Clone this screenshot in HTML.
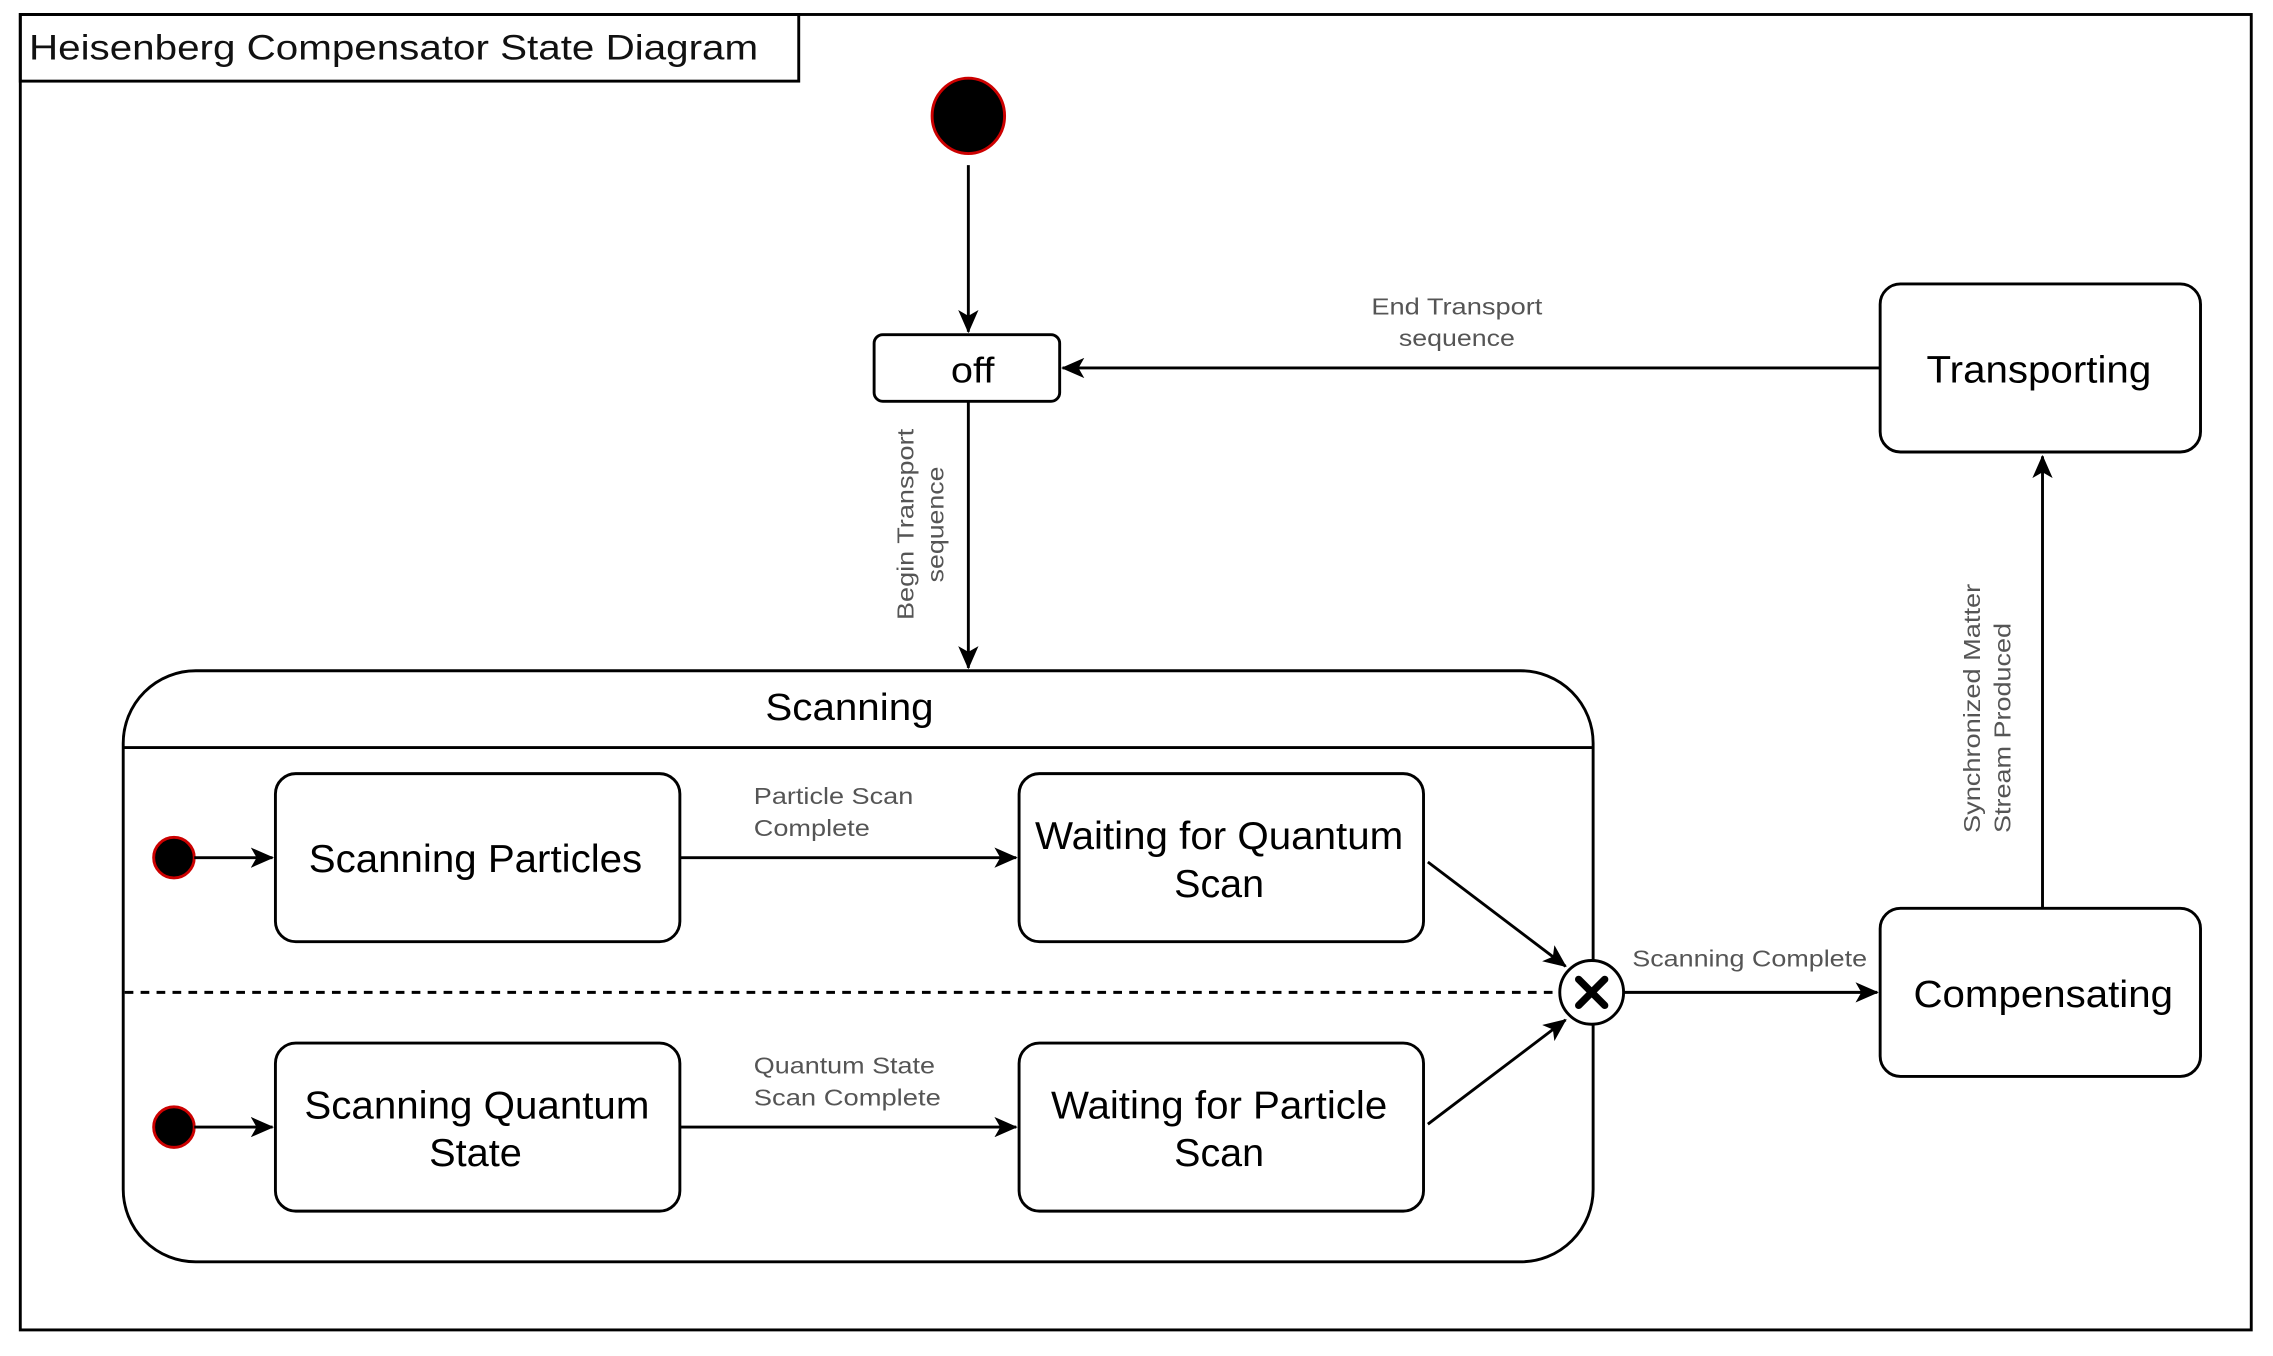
<!DOCTYPE html>
<html><head><meta charset="utf-8"><style>
html,body{margin:0;padding:0;background:#fff;width:2273px;height:1356px;overflow:hidden}
svg{display:block}
text{font-family:"Liberation Sans",sans-serif}
</style></head><body>
<svg width="2273" height="1356" viewBox="0 0 1568 936" preserveAspectRatio="none">
<defs>
<marker id="a" markerWidth="16" markerHeight="14" refX="15" refY="7" orient="auto" markerUnits="userSpaceOnUse">
<path d="M0,0 L16,7 L0,14 L4,7 z" fill="#000"/></marker>
</defs>
<rect x="0" y="0" width="1568" height="936" fill="#fff"/>
<rect x="14" y="10" width="1539" height="908" fill="none" stroke="#000" stroke-width="2"/>
<rect x="14" y="10" width="537" height="46" fill="none" stroke="#000" stroke-width="2"/>
<text x="20" y="41" font-size="24" fill="#111" textLength="503" lengthAdjust="spacingAndGlyphs">Heisenberg Compensator State Diagram</text>

<ellipse cx="668" cy="80" rx="25" ry="26" fill="#000" stroke="#c00" stroke-width="2"/>
<line x1="668" y1="114" x2="668" y2="229" stroke="#000" stroke-width="2" marker-end="url(#a)"/>
<rect x="603" y="231" width="128" height="46" rx="6" fill="#fff" stroke="#000" stroke-width="2"/>
<text x="656" y="264" font-size="25" textLength="30" lengthAdjust="spacingAndGlyphs">off</text>

<rect x="1297" y="196" width="221" height="116" rx="14" fill="#fff" stroke="#000" stroke-width="2"/>
<text x="1329" y="264" font-size="26" textLength="155" lengthAdjust="spacingAndGlyphs">Transporting</text>
<line x1="1297" y1="254" x2="733" y2="254" stroke="#000" stroke-width="2" marker-end="url(#a)"/>
<text x="946" y="217" font-size="16" fill="#555" textLength="118" lengthAdjust="spacingAndGlyphs">End Transport</text>
<text x="965" y="239" font-size="16" fill="#555" textLength="80" lengthAdjust="spacingAndGlyphs">sequence</text>

<line x1="668" y1="277" x2="668" y2="461" stroke="#000" stroke-width="2" marker-end="url(#a)"/>
<text transform="translate(630,428) rotate(-90)" font-size="16" fill="#555" textLength="132" lengthAdjust="spacingAndGlyphs">Begin Transport</text>
<text transform="translate(651,402) rotate(-90)" font-size="16" fill="#555" textLength="80" lengthAdjust="spacingAndGlyphs">sequence</text>

<rect x="85" y="463" width="1014" height="408" rx="50" fill="#fff" stroke="#000" stroke-width="2"/>
<line x1="85" y1="516" x2="1099" y2="516" stroke="#000" stroke-width="2"/>
<text x="528" y="497" font-size="26" textLength="116" lengthAdjust="spacingAndGlyphs">Scanning</text>
<line x1="86" y1="685" x2="1076" y2="685" stroke="#000" stroke-width="2" stroke-dasharray="6,5"/>

<ellipse cx="120" cy="592" rx="14" ry="14" fill="#000" stroke="#c00" stroke-width="2"/>
<ellipse cx="120" cy="778" rx="14" ry="14" fill="#000" stroke="#c00" stroke-width="2"/>
<line x1="134" y1="592" x2="188" y2="592" stroke="#000" stroke-width="2" marker-end="url(#a)"/>
<line x1="134" y1="778" x2="188" y2="778" stroke="#000" stroke-width="2" marker-end="url(#a)"/>

<rect x="190" y="534" width="279" height="116" rx="14" fill="#fff" stroke="#000" stroke-width="2"/>
<text x="213" y="602" font-size="27" textLength="230" lengthAdjust="spacingAndGlyphs">Scanning Particles</text>
<rect x="703" y="534" width="279" height="116" rx="14" fill="#fff" stroke="#000" stroke-width="2"/>
<text x="714" y="586" font-size="27" textLength="254" lengthAdjust="spacingAndGlyphs">Waiting for Quantum</text>
<text x="810" y="619" font-size="27" textLength="62" lengthAdjust="spacingAndGlyphs">Scan</text>
<rect x="190" y="720" width="279" height="116" rx="14" fill="#fff" stroke="#000" stroke-width="2"/>
<text x="210" y="772" font-size="27" textLength="238" lengthAdjust="spacingAndGlyphs">Scanning Quantum</text>
<text x="296" y="805" font-size="27" textLength="64" lengthAdjust="spacingAndGlyphs">State</text>
<rect x="703" y="720" width="279" height="116" rx="14" fill="#fff" stroke="#000" stroke-width="2"/>
<text x="725" y="772" font-size="27" textLength="232" lengthAdjust="spacingAndGlyphs">Waiting for Particle</text>
<text x="810" y="805" font-size="27" textLength="62" lengthAdjust="spacingAndGlyphs">Scan</text>

<line x1="469" y1="592" x2="701" y2="592" stroke="#000" stroke-width="2" marker-end="url(#a)"/>
<line x1="469" y1="778" x2="701" y2="778" stroke="#000" stroke-width="2" marker-end="url(#a)"/>
<text x="520" y="555" font-size="16" fill="#555" textLength="110" lengthAdjust="spacingAndGlyphs">Particle Scan</text>
<text x="520" y="577" font-size="16" fill="#555" textLength="80" lengthAdjust="spacingAndGlyphs">Complete</text>
<text x="520" y="741" font-size="16" fill="#555" textLength="125" lengthAdjust="spacingAndGlyphs">Quantum State</text>
<text x="520" y="763" font-size="16" fill="#555" textLength="129" lengthAdjust="spacingAndGlyphs">Scan Complete</text>

<line x1="985" y1="595" x2="1080" y2="667" stroke="#000" stroke-width="2" marker-end="url(#a)"/>
<line x1="985" y1="776" x2="1080" y2="704" stroke="#000" stroke-width="2" marker-end="url(#a)"/>
<circle cx="1098" cy="685" r="22" fill="#fff" stroke="#000" stroke-width="2"/>
<path d="M1089,676 L1107,694 M1107,676 L1089,694" stroke="#000" stroke-width="5" stroke-linecap="round"/>
<line x1="1120" y1="685" x2="1295" y2="685" stroke="#000" stroke-width="2" marker-end="url(#a)"/>
<text x="1126" y="667" font-size="16" fill="#555" textLength="162" lengthAdjust="spacingAndGlyphs">Scanning Complete</text>

<rect x="1297" y="627" width="221" height="116" rx="14" fill="#fff" stroke="#000" stroke-width="2"/>
<text x="1320" y="695" font-size="26" textLength="179" lengthAdjust="spacingAndGlyphs">Compensating</text>
<line x1="1409" y1="627" x2="1409" y2="315" stroke="#000" stroke-width="2" marker-end="url(#a)"/>
<text transform="translate(1366,575) rotate(-90)" font-size="16" fill="#555" textLength="172" lengthAdjust="spacingAndGlyphs">Synchronized Matter</text>
<text transform="translate(1387,575) rotate(-90)" font-size="16" fill="#555" textLength="145" lengthAdjust="spacingAndGlyphs">Stream Produced</text>
</svg>
</body></html>
